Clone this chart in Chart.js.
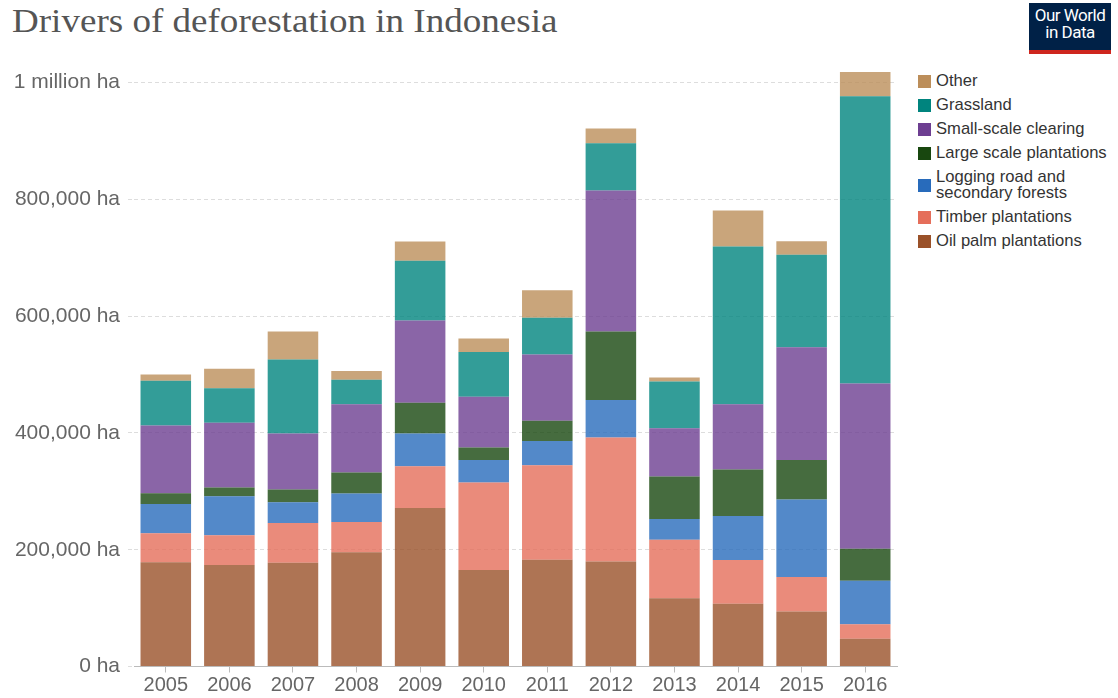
<!DOCTYPE html>
<html>
<head>
<meta charset="utf-8">
<script src="https://cdn.jsdelivr.net/npm/chart.js@4.4.1/dist/chart.umd.min.js"></script>
<style>
  body { margin: 0; background: #fff; width: 1118px; height: 698px; overflow: hidden; position: relative; font-family: "Liberation Sans", Arial, sans-serif; }
  #title { position: absolute; left: 12px; top: 2px; font-family: "Liberation Serif", serif; font-size: 34px; color: #555; white-space: nowrap; transform: scaleX(1.09); transform-origin: left top; }
  #logo { position: absolute; left: 1029px; top: 3px; width: 82px; height: 43px; background: #002147; border-bottom: 4px solid #ce261e; color: #fff; font-family: Roboto, sans-serif; font-size: 17px; line-height: 17px; text-align: center; padding-top: 4px; box-sizing: content-box; letter-spacing: -0.5px; }
  #legend { position: absolute; left: 918px; top: 69px; }
  .item { display: flex; align-items: center; padding: 4px 0; font-size: 16.6px; line-height: 16px; color: #333; }
  .sw { width: 13px; height: 13px; margin-right: 5px; flex: none; }
  #wrap { position: absolute; left: 0; top: 0; width: 1118px; height: 698px; }
</style>
</head>
<body>
<div id="title">Drivers of deforestation in Indonesia</div>
<div id="logo">Our World<br>in Data</div>
<div id="legend"></div>
<div id="wrap"><canvas id="myChart" width="1118" height="698"></canvas></div>
<script>
const ctx = document.getElementById('myChart');

const anni = ['2005', '2006', '2007', '2008', '2009', '2010', '2011', '2012', '2013', '2014', '2015', '2016'];

// hectares
const oilPalm   = [178600, 174000, 177900, 195700, 271700, 165400, 182900, 179700, 117100, 107600, 94300, 47500];
const timber    = [49700, 50900, 68100, 52000, 71400, 149600, 162000, 212700, 100000, 74700, 58900, 24700];
const logging   = [50200, 66800, 35400, 48500, 55900, 38900, 41200, 63900, 35400, 75300, 132900, 74600];
const largeScale = [18400, 14800, 21600, 36000, 52600, 21100, 34800, 117700, 72800, 79700, 67700, 55100];
const smallScale = [115800, 110900, 96000, 117200, 141100, 86900, 113300, 241200, 82900, 112100, 193000, 282900];
const grassland = [76600, 59400, 126900, 41700, 102300, 76600, 63300, 81000, 79800, 270200, 158300, 491800];
const other     = [10800, 33100, 48000, 14900, 33100, 23300, 46800, 25300, 6900, 61400, 23400, 41900];

const yTicks = [0, 200000, 400000, 600000, 800000, 1000000];

// bottom to top
const serie = [
    { label: 'Oil palm plantations', data: oilPalm, color: '#9A5129' },
    { label: 'Timber plantations', data: timber, color: '#E56E5A' },
    { label: ['Logging road and', 'secondary forests'], data: logging, color: '#286BBB' },
    { label: 'Large scale plantations', data: largeScale, color: '#18470F' },
    { label: 'Small-scale clearing', data: smallScale, color: '#6D3E91' },
    { label: 'Grassland', data: grassland, color: '#00847E' },
    { label: 'Other', data: other, color: '#BC8E5A' }
];

function alpha(hex, a) {
    const n = parseInt(hex.slice(1), 16);
    return 'rgba(' + (n >> 16) + ',' + ((n >> 8) & 255) + ',' + (n & 255) + ',' + a + ')';
}

// legend, top to bottom
const legend = document.getElementById('legend');
serie.slice().reverse().forEach(s => {
    const riga = document.createElement('div');
    riga.className = 'item';
    const sw = document.createElement('div');
    sw.className = 'sw';
    sw.style.background = s.color;
    const txt = document.createElement('div');
    txt.innerHTML = Array.isArray(s.label) ? s.label.join('<br>') : s.label;
    riga.appendChild(sw);
    riga.appendChild(txt);
    legend.appendChild(riga);
});

const tickFont = { family: '"Liberation Sans", Arial, sans-serif', size: 20 };

new Chart(ctx, {
    type: 'bar',
    data: {
        labels: anni,
        datasets: serie.map(s => ({
            label: Array.isArray(s.label) ? s.label.join(' ') : s.label,
            data: s.data,
            backgroundColor: alpha(s.color, 0.8),
            borderWidth: 0,
            categoryPercentage: 0.795,
            barPercentage: 1
        }))
    },
    options: {
        responsive: false,
        animation: false,
        devicePixelRatio: 1,
        layout: { padding: { left: 0, right: 221, top: 71, bottom: 0 } },
        plugins: {
            legend: { display: false },
            tooltip: { enabled: false }
        },
        scales: {
            x: {
                stacked: true,
                afterFit: s => { s.height = 31.5; },
                grid: { drawOnChartArea: false, drawTicks: true, tickLength: 6, offset: false, color: '#bbb' },
                border: { display: true, color: '#bbb', width: 1 },
                ticks: { color: '#666', font: tickFont, padding: 1, maxRotation: 0 }
            },
            y: {
                stacked: true,
                min: 0,
                max: 1020000,
                afterFit: s => { s.width = 134; },
                afterBuildTicks: s => { s.ticks = yTicks.map(v => ({ value: v })); },
                grid: { color: '#ddd', tickColor: '#ddd', tickLength: 6, tickBorderDash: [4, 3] },
                border: { display: false, dash: [4, 3] },
                ticks: {
                    color: '#666',
                    font: { family: '"Liberation Sans", Arial, sans-serif', size: 21 },
                    padding: 8,
                    callback: v => v === 1000000 ? '1 million ha' : v.toLocaleString('en-US') + ' ha'
                }
            }
        }
    }
});
</script>
</body>
</html>
